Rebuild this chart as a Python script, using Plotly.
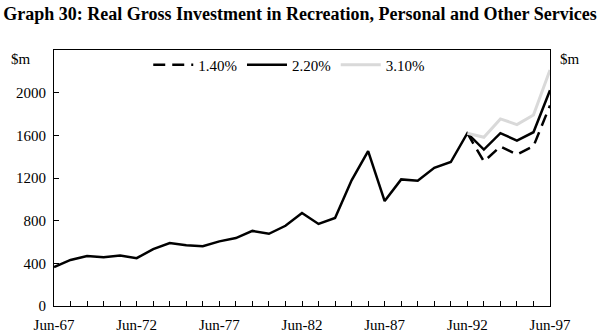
import plotly.graph_objects as go

years = list(range(1967, 1998))
tick_years = [1967, 1972, 1977, 1982, 1987, 1992, 1997]
tick_labels = ["Jun-67", "Jun-72", "Jun-77", "Jun-82", "Jun-87", "Jun-92", "Jun-97"]

# 2.20% series including history (1967-1997)
s_220 = [365, 432, 468, 458, 474, 448, 534, 591, 569, 560, 606, 637, 704, 677, 752,
         872, 769, 825, 1178, 1452, 984, 1187, 1174, 1296, 1350,
         1620, 1467, 1620, 1551, 1629, 2022]
# scenario series from 1992 onwards
scen_years = [1992, 1993, 1994, 1995, 1996, 1997]
s_140 = [1620, 1355, 1495, 1420, 1498, 1880]
s_310 = [1620, 1582, 1754, 1701, 1791, 2213]

y_ticks = [0, 400, 800, 1200, 1600, 2000]

FONT = "Liberation Serif"
FS = 15

fig = go.Figure()
fig.add_trace(go.Scatter(x=scen_years, y=s_140, mode="lines", name="1.40%",
                         line=dict(color="black", width=2.5, dash="12px,7px")))
fig.add_trace(go.Scatter(x=years, y=s_220, mode="lines", name="2.20%",
                         line=dict(color="black", width=2.5)))
fig.add_trace(go.Scatter(x=scen_years, y=s_310, mode="lines", name="3.10%",
                         line=dict(color="#d9d9d9", width=3)))

fig.update_layout(
    width=600, height=332,
    margin=dict(l=54, r=50, t=50, b=26, autoexpand=False),
    paper_bgcolor="white", plot_bgcolor="white",
    font=dict(family=FONT, size=FS, color="black"),
    title=dict(text="<b>Graph 30: Real Gross Investment in Recreation, Personal and Other Services</b>",
               x=0.5, xanchor="center", y=1 - 14 / 332, yanchor="middle", yref="container",
               font=dict(family=FONT, size=18, color="black"), automargin=False),
    showlegend=True,
    legend=dict(orientation="h", x=0.19, xanchor="left", y=1 - 15 / 256, yanchor="middle",
                bgcolor="rgba(0,0,0,0)", font=dict(family=FONT, size=FS),
                itemwidth=40, tracegroupgap=0),
    xaxis=dict(range=[1967, 1997], tickvals=tick_years, ticktext=tick_labels,
               ticks="inside", ticklen=5, tickcolor="black", showline=True, linecolor="black",
               linewidth=1, mirror=True, showgrid=False, zeroline=False, automargin=False,
               ticklabelstandoff=5,
               minor=dict(dtick=1, tick0=1967, ticks="inside", ticklen=5, tickcolor="black",
                          showgrid=False)),
    yaxis=dict(range=[0, 2400], tickvals=y_ticks, ticks="inside", ticklen=5, tickcolor="black",
               showline=True, linecolor="black", linewidth=1, mirror=True, showgrid=False,
               zeroline=False, ticklabelstandoff=4, automargin=False),
    yaxis2=dict(range=[0, 2400], tickvals=y_ticks, ticks="inside", ticklen=5, tickcolor="black",
                overlaying="y", side="right", showline=False, showgrid=False, zeroline=False,
                ticklabelstandoff=4, automargin=False),
    annotations=[
        dict(text="$m", xref="paper", yref="paper", x=-0.067, y=1 - 9 / 256, xanchor="center",
             yanchor="middle", showarrow=False, font=dict(family=FONT, size=FS)),
        dict(text="$m", xref="paper", yref="paper", x=1.04, y=1 - 9 / 256, xanchor="center",
             yanchor="middle", showarrow=False, font=dict(family=FONT, size=FS)),
    ],
)

fig.write_html("out.html")
